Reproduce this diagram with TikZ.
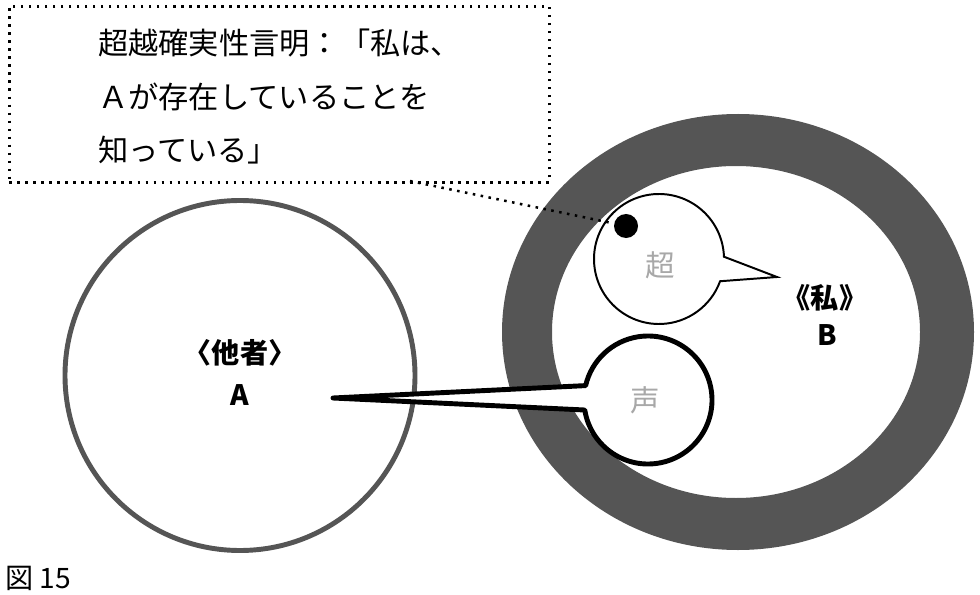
\documentclass[tikz,border=0pt]{standalone}
\usepackage{fontspec}
\setmainfont{Noto Sans CJK JP}
\definecolor{ringgray}{HTML}{555555}
\definecolor{wordgray}{HTML}{A8A8A8}
\begin{document}
\begin{tikzpicture}[x=0.025cm, y=0.025cm,
    lbl/.style = {inner sep=0pt, font=\fontsize{20}{24}\selectfont\bfseries},
    grayword/.style = {inner sep=0pt, text=wordgray, font=\fontsize{21}{24}\selectfont},
    note/.style = {anchor=west, inner sep=0pt, font=\fontsize{21.5}{25}\selectfont},
    dots/.style = {line width=1.8pt, dash pattern=on 1.8pt off 3.9pt}]
    \useasboundingbox (0,0) rectangle (980,594);
    \fill[ringgray, even odd rule] (738,262) ellipse [x radius=236, y radius=218]
                                   (736,262) ellipse [x radius=184, y radius=166];
    \draw[ringgray, line width=3.5pt] (240,218.5) circle [radius=175];
    \draw[fill=white, line width=3.5pt, line join=round] (648,194) ++(189:64)
        arc[start angle=189, end angle=527, radius=64] -- (333,196) -- cycle;
    \draw[fill=white, line width=1.4pt] (659,335) ++(2:65)
        arc[start angle=2, end angle=340, radius=65] -- (777,317) -- cycle;
    \node[circle, fill, inner sep=0pt, minimum size=0.6cm] (dot) at (626,368) {};
    \node[dots, draw, anchor=north west, minimum width=13.5cm, minimum height=4.4cm] (claim) at (8,589) {};
    \coordinate (lead) at (410,413);
    \draw[dots] (lead) -- (dot);
    \node[note] (l1) at (98,551) {超越確実性言明：「私は、};
    \node[note] (l2) at (98,497) {Ａが存在していることを};
    \node[note] (l3) at (98,444) {知っている」};
    \node[lbl] (other)  at (240,241) {〈他者〉};
    \node[lbl] (otherA) at (240,199) {A};
    \node[lbl] (self)   at (825,296) {《私》};
    \node[lbl] (selfB)  at (827,259) {B};
    \node[grayword] (cho) at (660,329) {超};
    \node[grayword] (koe) at (645,194) {声};
    \node[anchor=west, inner sep=0pt, font=\fontsize{20}{22}\selectfont] (cap) at (5,16) {図 15};
\end{tikzpicture}
\end{document}
